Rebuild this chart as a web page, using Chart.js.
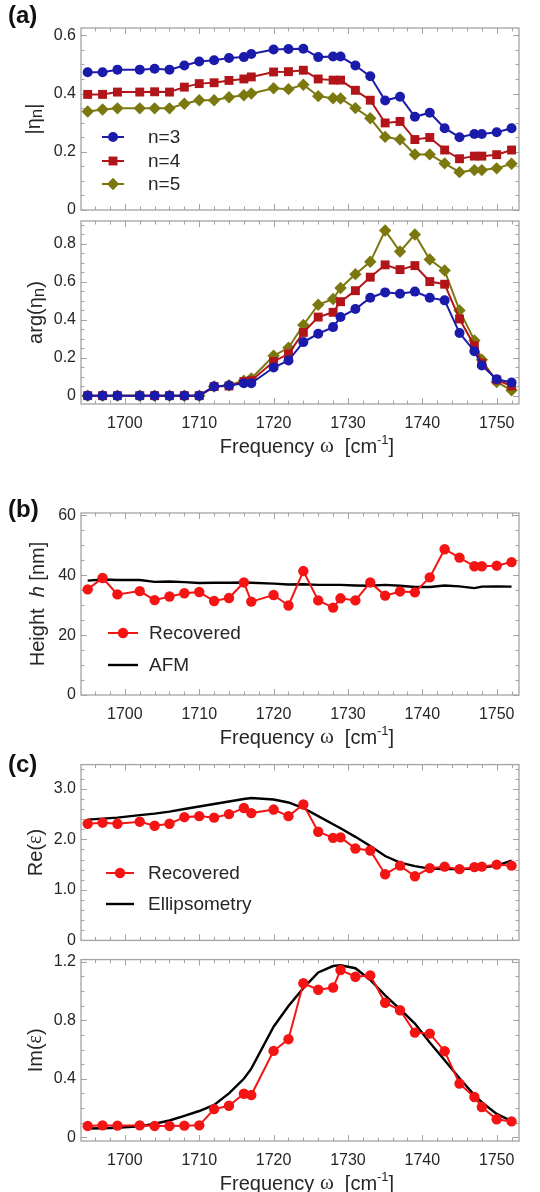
<!DOCTYPE html>
<html><head><meta charset="utf-8">
<script src="https://cdn.jsdelivr.net/npm/chart.js@4/dist/chart.umd.min.js"></script>
<style>
html,body{margin:0;padding:0;background:#fff;}
#wrap{position:relative;width:540px;height:1192px;overflow:hidden;background:#fff;}
canvas{position:absolute;left:0;}
</style></head><body><div id="wrap">
<canvas id="cA1" width="540" height="230" style="top:0px"></canvas>
<canvas id="cA2" width="540" height="260" style="top:205px"></canvas>
<canvas id="cB" width="540" height="285" style="top:465px"></canvas>
<canvas id="cC1" width="540" height="205" style="top:750px"></canvas>
<canvas id="cC2" width="540" height="247" style="top:945px"></canvas>
</div>
<script>
// ---------------- data ----------------
const freq = [1695,1697,1699,1702,1704,1706,1708,1710,1712,1714,1716,1717,1720,1722,1724,1726,1728,1729,1731,1733,1735,1737,1739,1741,1743,1745,1747,1748,1750,1752];

const absEta3 = [0.473,0.473,0.482,0.482,0.485,0.482,0.496,0.510,0.514,0.522,0.525,0.536,0.551,0.553,0.554,0.525,0.527,0.527,0.496,0.459,0.376,0.389,0.320,0.334,0.281,0.250,0.261,0.261,0.267,0.281];
const absEta4 = [0.397,0.397,0.405,0.405,0.406,0.405,0.422,0.434,0.437,0.445,0.450,0.457,0.474,0.475,0.480,0.450,0.446,0.446,0.411,0.377,0.299,0.304,0.242,0.249,0.206,0.176,0.185,0.185,0.190,0.206];
const absEta5 = [0.338,0.345,0.349,0.349,0.349,0.349,0.365,0.377,0.377,0.387,0.394,0.400,0.418,0.415,0.430,0.391,0.384,0.383,0.350,0.315,0.251,0.242,0.191,0.191,0.160,0.130,0.137,0.137,0.143,0.159];

const argEta3 = [0,0,0,0,0,0,0,0,0.048,0.053,0.065,0.065,0.148,0.185,0.282,0.326,0.361,0.414,0.456,0.516,0.544,0.537,0.548,0.516,0.502,0.330,0.234,0.159,0.086,0.069];
const argEta4 = [0,0,0,0,0,0,0,0,0.048,0.051,0.074,0.079,0.180,0.220,0.333,0.414,0.439,0.495,0.553,0.624,0.689,0.664,0.685,0.601,0.587,0.404,0.263,0.171,0.083,0.051];
const argEta5 = [0,0,0,0,0,0,0,0,0.048,0.055,0.079,0.090,0.210,0.252,0.372,0.479,0.509,0.567,0.640,0.705,0.870,0.759,0.849,0.717,0.659,0.449,0.291,0.189,0.072,0.028];

const heightRecovered = [35.3,39.1,33.6,34.7,31.7,32.9,34.0,34.4,31.4,32.4,37.6,31.2,33.4,29.9,41.4,31.6,29.2,32.3,31.6,37.6,33.2,34.6,34.3,39.3,48.7,45.9,43.0,43.0,43.2,44.4];
const heightAFM = [38.2,38.6,38.4,38.4,37.8,37.9,37.7,37.4,37.5,37.5,37.6,37.5,37.2,36.9,37.0,36.8,36.8,36.8,36.6,36.5,36.8,36.5,36.1,36.1,36.6,36.3,35.7,36.2,36.3,36.2];

const reRecovered = [2.31,2.33,2.31,2.35,2.27,2.31,2.44,2.46,2.43,2.50,2.62,2.52,2.59,2.46,2.69,2.15,2.03,2.04,1.82,1.78,1.31,1.48,1.27,1.43,1.46,1.41,1.45,1.46,1.50,1.48];
const reEllipsometry = [2.39,2.41,2.43,2.48,2.51,2.55,2.60,2.65,2.70,2.75,2.80,2.82,2.79,2.73,2.62,2.46,2.30,2.22,2.05,1.87,1.67,1.54,1.47,1.42,1.41,1.41,1.42,1.44,1.48,1.58];

const imRecovered = [0.078,0.082,0.080,0.082,0.078,0.078,0.080,0.082,0.193,0.216,0.298,0.289,0.591,0.671,1.053,1.009,1.024,1.144,1.098,1.107,0.920,0.869,0.716,0.709,0.589,0.367,0.276,0.207,0.124,0.109];
const imEllipsometry = [0.060,0.062,0.066,0.075,0.093,0.115,0.147,0.180,0.222,0.300,0.400,0.470,0.756,0.898,1.020,1.127,1.171,1.176,1.156,1.076,0.971,0.876,0.778,0.649,0.527,0.404,0.289,0.240,0.160,0.111];

// tick values and labels
const freqTicks = [1700,1710,1720,1730,1740,1750];
const freqTickLabels = ["1700","1710","1720","1730","1740","1750"];
const absTicks = [0,0.2,0.4,0.6];
const absTickLabels = ["0","0.2","0.4","0.6"];
const argTicks = [0,0.2,0.4,0.6,0.8];
const argTickLabels = ["0","0.2","0.4","0.6","0.8"];
const heightTicks = [0,20,40,60];
const heightTickLabels = ["0","20","40","60"];
const reTicks = [0,1,2,3];
const reTickLabels = ["0","1.0","2.0","3.0"];
const imTicks = [0,0.4,0.8,1.2];
const imTickLabels = ["0","0.4","0.8","1.2"];

const seriesNames = ["n=3","n=4","n=5"];
const hLegend = ["Recovered","AFM"];
const eLegend = ["Recovered","Ellipsometry"];

// ---------------- styling helpers ----------------
const FONT = "'Liberation Sans', Arial, Helvetica, sans-serif";
const SERIF = "'Liberation Serif', 'Times New Roman', serif";
const TXT = '#262626';
const FRAME = '#a3a3a3';
const BLUE = '#1b1bab', DRED = '#b21519', OLIVE = '#7b780f', RED = '#f41414';

function pts(ys){ return freq.map((f,i)=>({x:f,y:ys[i]})); }

function ds(label, ys, color, style, radius, lw){
  return { label, data: pts(ys), borderColor: color, backgroundColor: color,
    pointBackgroundColor: color, pointBorderWidth: 0, pointStyle: style || false,
    pointRadius: style ? radius : 0, borderWidth: lw, tension: 0, fill: false };
}

function marker(ctx, style, x, y, r, color){
  ctx.fillStyle = color; ctx.beginPath();
  if (style === 'circle') ctx.arc(x, y, r, 0, 2*Math.PI);
  else if (style === 'rect') { const s = r*Math.SQRT1_2; ctx.rect(x-s, y-s, 2*s, 2*s); }
  else if (style === 'rectRot') { ctx.moveTo(x-r,y); ctx.lineTo(x,y-r); ctx.lineTo(x+r,y); ctx.lineTo(x,y+r); ctx.closePath(); }
  ctx.fill();
}

function drawRich(ctx, segs, cx, cy, rotate){
  ctx.save();
  ctx.translate(cx, cy);
  if (rotate) ctx.rotate(-Math.PI/2);
  let total = 0;
  segs.forEach(s => { ctx.font = s.f; s.w = ctx.measureText(s.t).width; total += s.w; });
  let x = -total/2;
  ctx.textBaseline = 'middle'; ctx.textAlign = 'left'; ctx.fillStyle = TXT;
  segs.forEach(s => { ctx.font = s.f; ctx.fillText(s.t, x, s.dy || 0); x += s.w; });
  ctx.restore();
}

const F20 = '20px ' + FONT;
const xTitleSegs = () => [
  {t:'Frequency ', f:F20},
  {t:'ω', f:'21px ' + SERIF, dy:-1},
  {t:'  [cm', f:F20},
  {t:'-1', f:'13px ' + FONT, dy:-7},
  {t:']', f:F20}
];

const decoPlugin = {
  id: 'deco',
  beforeDatasetsDraw(chart){
    const o = chart.options.plugins.deco;
    const {ctx, chartArea:a, scales:{x, y}} = chart;
    ctx.save();
    ctx.strokeStyle = FRAME; ctx.lineWidth = 1.3;
    ctx.strokeRect(a.left, a.top, a.right-a.left, a.bottom-a.top);
    ctx.lineWidth = 1;
    ctx.beginPath();
    const eps = 1e-9;
    for (let v = Math.ceil(x.min/o.xMinor)*o.xMinor; v <= x.max+eps; v += o.xMinor){
      const major = freqTicks.some(t => Math.abs(t-v) < 1e-6);
      const L = major ? 6 : 3.5;
      const px = Math.round(x.getPixelForValue(v)) + 0.5;
      ctx.moveTo(px, a.bottom); ctx.lineTo(px, a.bottom - L);
      ctx.moveTo(px, a.top); ctx.lineTo(px, a.top + L);
    }
    for (let k = Math.ceil(y.min/o.yMinor - eps); k*o.yMinor <= y.max+eps; k++){
      const v = k*o.yMinor;
      const major = o.yTicks.some(t => Math.abs(t-v) < 1e-6);
      const L = major ? 6 : 3.5;
      const py = Math.round(y.getPixelForValue(v)) + 0.5;
      ctx.moveTo(a.left, py); ctx.lineTo(a.left + L, py);
      ctx.moveTo(a.right, py); ctx.lineTo(a.right - L, py);
    }
    ctx.stroke();
    ctx.restore();
  },
  afterDraw(chart){
    const o = chart.options.plugins.deco;
    const {ctx, chartArea:a} = chart;
    ctx.save();
    if (o.panel){
      ctx.font = 'bold 24px ' + FONT; ctx.fillStyle = '#111';
      ctx.textAlign = 'left'; ctx.textBaseline = 'middle';
      ctx.fillText(o.panel, 8, o.panelY);
    }
    if (o.yTitle) drawRich(ctx, o.yTitle, o.yTitleX, (a.top + a.bottom)/2, true);
    if (o.xTitle) drawRich(ctx, xTitleSegs(), 307, a.bottom + 43, false);
    if (o.legend){
      const L = o.legend;
      L.names.forEach((name, i) => {
        const d = chart.data.datasets[i];
        const yy = L.ys[i];
        ctx.strokeStyle = d.borderColor; ctx.lineWidth = d.borderWidth;
        ctx.beginPath(); ctx.moveTo(L.x0, yy); ctx.lineTo(L.x1, yy); ctx.stroke();
        if (d.pointStyle) marker(ctx, d.pointStyle, (L.x0+L.x1)/2, yy, d.pointRadius, d.borderColor);
        ctx.font = '19px ' + FONT; ctx.fillStyle = TXT;
        ctx.textAlign = 'left'; ctx.textBaseline = 'middle';
        ctx.fillText(name, L.tx, yy + 1);
      });
    }
    ctx.restore();
  }
};

function makeChart(id, c){
  return new Chart(document.getElementById(id), {
    type: 'line',
    data: { datasets: c.datasets },
    options: {
      responsive: false, animation: false, devicePixelRatio: 1,
      layout: { padding: { top: c.padTop, right: 21, left: 0, bottom: 0 } },
      plugins: { legend: {display:false}, tooltip: {enabled:false}, deco: c.deco },
      scales: {
        x: { type:'linear', min:1694.1, max:1753,
             grid:{display:false, drawTicks:false}, border:{display:false},
             ticks:{ display: c.xLabels, padding: 10, autoSkip:false, maxRotation:0,
                     font:{family:FONT, size:16}, color:TXT,
                     callback:(v,i)=>freqTickLabels[i] },
             afterBuildTicks: s => { s.ticks = freqTicks.map(v=>({value:v})); },
             afterFit: s => { s.height = c.bottomSpace; } },
        y: { type:'linear', min:c.yMin, max:c.yMax,
             grid:{display:false, drawTicks:false}, border:{display:false},
             ticks:{ padding: 5, autoSkip:false, font:{family:FONT, size:16}, color:TXT,
                     callback:(v,i)=>c.yLabels[i] },
             afterBuildTicks: s => { s.ticks = c.yTicks.map(v=>({value:v})); },
             afterFit: s => { s.width = 81; } }
      }
    },
    plugins: [decoPlugin]
  });
}

const F20s = '20px ' + FONT;
makeChart('cA1', {
  padTop: 28, bottomSpace: 20, xLabels: false,
  yMin: 0, yMax: 0.625, yTicks: absTicks, yLabels: absTickLabels,
  datasets: [
    ds(seriesNames[0], absEta3, BLUE, 'circle', 5, 2),
    ds(seriesNames[1], absEta4, DRED, 'rect', 6.3, 2),
    ds(seriesNames[2], absEta5, OLIVE, 'rectRot', 6.2, 2)
  ],
  deco: { panel:'(a)', panelY:16, xMinor:2, yMinor:0.05, yTicks:absTicks,
    yTitleX: 34,
    yTitle: [{t:'|η', f:F20s},{t:'n', f:'17px '+FONT, dy:3},{t:'|', f:F20s}],
    legend: { names: seriesNames, ys:[137,161,184], x0:102, x1:124, tx:148 } }
});

makeChart('cA2', {
  padTop: 16, bottomSpace: 61, xLabels: true,
  yMin: -0.044, yMax: 0.92, yTicks: argTicks, yLabels: argTickLabels,
  datasets: [
    ds(seriesNames[0], argEta3, BLUE, 'circle', 5, 2),
    ds(seriesNames[1], argEta4, DRED, 'rect', 6.3, 2),
    ds(seriesNames[2], argEta5, OLIVE, 'rectRot', 6.2, 2)
  ],
  deco: { xMinor:2, yMinor:0.05, yTicks:argTicks, xTitle:true,
    yTitleX: 36,
    yTitle: [{t:'arg(η', f:F20s},{t:'n', f:'17px '+FONT, dy:3},{t:')', f:F20s}] }
});

makeChart('cB', {
  padTop: 48, bottomSpace: 55, xLabels: true,
  yMin: 0, yMax: 60.8, yTicks: heightTicks, yLabels: heightTickLabels,
  datasets: [
    ds(hLegend[0], heightRecovered, RED, 'circle', 5.2, 2),
    ds(hLegend[1], heightAFM, '#000', false, 0, 2.4)
  ],
  deco: { panel:'(b)', panelY:45, xMinor:2, yMinor:5, yTicks:heightTicks, xTitle:true,
    yTitleX: 38,
    yTitle: [{t:'Height  ', f:F20s},{t:'h', f:'italic 20px '+FONT},{t:' [nm]', f:F20s}],
    legend: { names: hLegend, ys:[168,200], x0:108, x1:138, tx:149 } }
});

makeChart('cC1', {
  padTop: 14, bottomSpace: 9, xLabels: false,
  yMin: 0, yMax: 3.48, yTicks: reTicks, yLabels: reTickLabels,
  datasets: [
    ds(eLegend[0], reRecovered, RED, 'circle', 5.2, 2),
    ds(eLegend[1], reEllipsometry, '#000', false, 0, 2.4)
  ],
  deco: { panel:'(c)', panelY:15, xMinor:2, yMinor:0.2, yTicks:reTicks,
    yTitleX: 36,
    yTitle: [{t:'Re(', f:F20s},{t:'ε', f:'20px '+SERIF},{t:')', f:F20s}],
    legend: { names: eLegend, ys:[123,154], x0:106, x1:134, tx:148 } }
});

makeChart('cC2', {
  padTop: 12, bottomSpace: 51, xLabels: true,
  yMin: -0.025, yMax: 1.215, yTicks: imTicks, yLabels: imTickLabels,
  datasets: [
    ds(eLegend[0], imRecovered, RED, 'circle', 5.2, 2),
    ds(eLegend[1], imEllipsometry, '#000', false, 0, 2.4)
  ],
  deco: { xMinor:2, yMinor:0.1, yTicks:imTicks, xTitle:true,
    yTitleX: 36,
    yTitle: [{t:'Im(', f:F20s},{t:'ε', f:'20px '+SERIF},{t:')', f:F20s}] }
});
</script>
</body></html>
